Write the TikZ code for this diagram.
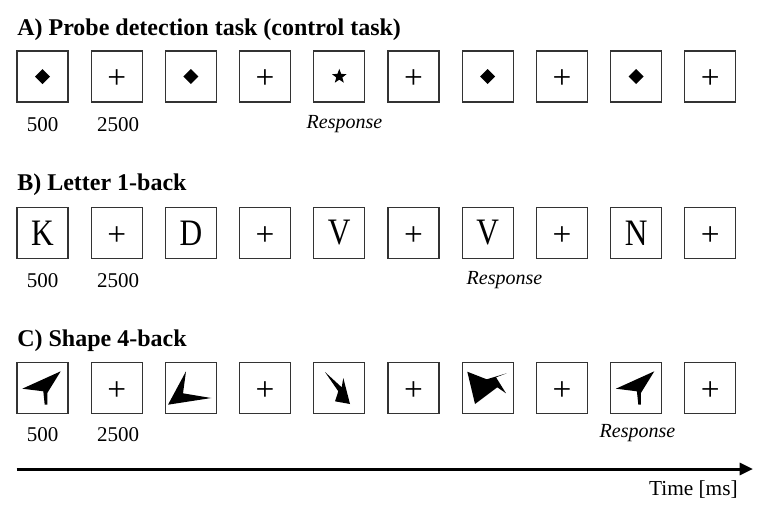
\documentclass[tikz,border=0pt]{standalone}
\usepackage{fontspec}
\setmainfont{Liberation Serif}
\usepackage{graphicx}
\usetikzlibrary{arrows.meta,shapes.geometric}
\newcommand{\narrow}[1]{\scalebox{0.84}[1]{#1}}
\tikzset{
  stim/.style={draw=black!80,line width=0.9pt,minimum size=38.25pt,inner sep=0pt},
  fix/.style={stim,font=\fontsize{25}{25}\selectfont,text height=18.4pt,text depth=0pt},
  letr/.style={stim,font=\fontsize{28}{28}\selectfont},
  head/.style={anchor=base west,inner sep=0pt,font=\fontsize{18}{18}\selectfont\bfseries},
  dur/.style={anchor=base,inner sep=0pt,font=\fontsize{15.75}{16}\selectfont},
  resp/.style={anchor=base,inner sep=0pt,font=\fontsize{15}{16}\selectfont\itshape},
  timeline/.style={line width=2.25pt,-{Triangle[length=10pt,width=9pt]}}
}
\begin{document}
\begin{tikzpicture}[x=0.75pt,y=-0.75pt]
\useasboundingbox (0,0) rectangle (762,514);
% A) probe detection
\node[head] (ta) at (17,35) {A) Probe detection task (control task)};
\node[stim] (a1) at (42.5,76.5) {};
\node[fix] (a2) at (116.7,76.5) {+};
\node[stim] (a3) at (190.9,76.5) {};
\node[fix] (a4) at (265.1,76.5) {+};
\node[stim] (a5) at (339.3,76.5) {};
\node[fix] (a6) at (413.5,76.5) {+};
\node[stim] (a7) at (487.7,76.5) {};
\node[fix] (a8) at (561.9,76.5) {+};
\node[stim] (a9) at (636.1,76.5) {};
\node[fix] (a10) at (710.3,76.5) {+};
\fill[shift={(a1)}] (0,-7.5) -- (7.5,0) -- (0,7.5) -- (-7.5,0) -- cycle;
\fill[shift={(a3)}] (0,-7.5) -- (7.5,0) -- (0,7.5) -- (-7.5,0) -- cycle;
\fill[shift={(a7)}] (0,-7.5) -- (7.5,0) -- (0,7.5) -- (-7.5,0) -- cycle;
\fill[shift={(a9)}] (0,-7.5) -- (7.5,0) -- (0,7.5) -- (-7.5,0) -- cycle;
\node[star,star points=5,star point ratio=2.4,fill,inner sep=0pt,minimum size=11.5pt] (probe) at (a5) {};
\node[dur] (da1) at (42.5,131.7) {500};
\node[dur] (da2) at (118,131.7) {2500};
\node[resp] (ra) at (344.5,128.5) {Response};
% B) letter 1-back
\node[head] (tb) at (17,190.7) {B) Letter 1-back};
\node[letr] (b1) at (42.5,233) {\narrow{K}};
\node[fix] (b2) at (116.7,233) {+};
\node[letr] (b3) at (190.9,233) {\narrow{D}};
\node[fix] (b4) at (265.1,233) {+};
\node[letr] (b5) at (339.3,233) {\narrow{V}};
\node[fix] (b6) at (413.5,233) {+};
\node[letr] (b7) at (487.7,233) {\narrow{V}};
\node[fix] (b8) at (561.9,233) {+};
\node[letr] (b9) at (636.1,233) {\narrow{N}};
\node[fix] (b10) at (710.3,233) {+};
\node[dur] (db1) at (42.5,287.2) {500};
\node[dur] (db2) at (118,287.2) {2500};
\node[resp] (rb) at (504.5,284) {Response};
% C) shape 4-back
\node[head] (tc) at (17,346.4) {C) Shape 4-back};
\node[stim] (c1) at (42.5,388) {};
\node[fix] (c2) at (116.7,388) {+};
\node[stim] (c3) at (190.9,388) {};
\node[fix] (c4) at (265.1,388) {+};
\node[stim] (c5) at (339.3,388) {};
\node[fix] (c6) at (413.5,388) {+};
\node[stim] (c7) at (487.7,388) {};
\node[fix] (c8) at (561.9,388) {+};
\node[stim] (c9) at (636.1,388) {};
\node[fix] (c10) at (710.3,388) {+};
\fill[shift={(c1)}] (18.2,-16.7) -- (-20.2,0.7) -- (0.8,3.3) -- (2.2,16.7) -- (4.8,16.7) -- (4.8,5) -- cycle;
\fill[shift={(c3)}] (-4.9,-16.7) -- (-22.9,16.7) -- (20.4,10) -- (-7.9,5.3) -- cycle;
\fill[shift={(c5)}] (-14.3,-16) -- (2.4,-0.7) -- (4,-10) -- (10.7,16) -- (-4.3,13.3) -- (-1,3.3) -- cycle;
\fill[shift={(c7)}] (-20.4,-16.3) -- (-1,-8.7) -- (19,-14.7) -- (8.3,-10.7) -- (18.3,5.3) -- (9.6,-0.7) -- (-12.7,16) -- cycle;
\fill[shift={(c9)}] (18.2,-16.7) -- (-20.2,0.7) -- (0.8,3.3) -- (2.2,16.7) -- (4.8,16.7) -- (4.8,5) -- cycle;
\node[dur] (dc1) at (42.5,441.7) {500};
\node[dur] (dc2) at (118,441.7) {2500};
\node[resp] (rc) at (637.5,437.5) {Response};
% time axis
\coordinate (t0) at (16.7,469);
\coordinate (t1) at (753,469);
\draw[timeline] (t0) -- (t1);
\node[anchor=base east,inner sep=0pt,font=\fontsize{16}{16}\selectfont] (tlab) at (738,495) {Time [ms]};
\end{tikzpicture}
\end{document}
